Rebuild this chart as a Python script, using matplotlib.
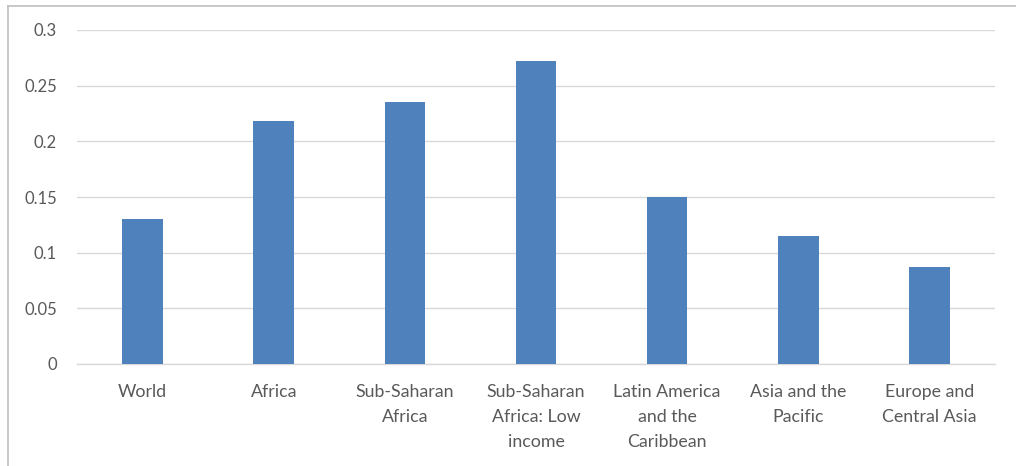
import matplotlib
matplotlib.use("Agg")
import matplotlib.pyplot as plt
from matplotlib.lines import Line2D

categories = ["World", "Africa", "Sub-Saharan\nAfrica", "Sub-Saharan\nAfrica: Low\nincome",
              "Latin America\nand the\nCaribbean", "Asia and the\nPacific", "Europe and\nCentral Asia"]
values = [0.130, 0.218, 0.235, 0.272, 0.150, 0.115, 0.087]
yticks = [0, 0.05, 0.1, 0.15, 0.2, 0.25, 0.3]
ytick_labels = ["0", "0.05", "0.1", "0.15", "0.2", "0.25", "0.3"]

plt.rcParams['font.family'] = ['Lato', 'DejaVu Sans']

W, H = 1016, 466
fig = plt.figure(figsize=(W / 100, H / 100), dpi=100)
ax = fig.add_axes([77 / W, 1 - 364 / H, (995 - 77) / W, (364 - 30) / H])

x = list(range(len(categories)))
ax.bar(x, values, width=0.31, color="#4f81bd", zorder=3)
ax.set_xlim(-0.5, len(categories) - 0.5)
ax.set_ylim(0, 0.3)
ax.set_yticks(yticks)
ax.set_yticklabels(ytick_labels)
ax.set_xticks(x)
ax.set_xticklabels(categories, linespacing=1.67, va="top")
ax.grid(axis="y", color="#d9d9d9", linewidth=1, zorder=0)
for s in ["top", "right", "left"]:
    ax.spines[s].set_visible(False)
ax.spines["bottom"].set_color("#d9d9d9")
ax.spines["bottom"].set_linewidth(1)
ax.tick_params(axis="both", length=0, labelcolor="#595959")
ax.tick_params(axis="x", pad=14.5, labelsize=12.8)
ax.tick_params(axis="y", pad=14.5, labelsize=12)

# outer chart border (top and left visible)
fig.add_artist(Line2D([7.5 / W, 1.0], [1 - 5.5 / H, 1 - 5.5 / H], transform=fig.transFigure,
                      color="#bfbfbf", linewidth=1.2))
fig.add_artist(Line2D([7.5 / W, 7.5 / W], [0, 1 - 5.5 / H], transform=fig.transFigure,
                      color="#bfbfbf", linewidth=1.2))

fig.savefig("out.png", dpi=100)
